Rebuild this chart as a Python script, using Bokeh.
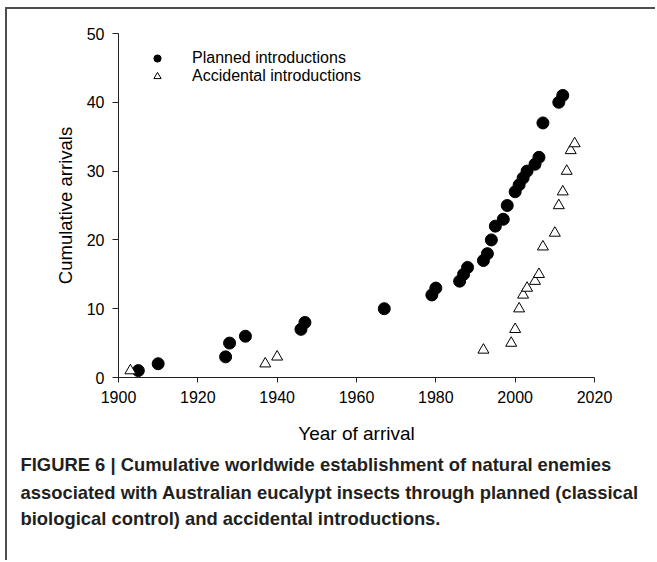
from bokeh.plotting import figure
from bokeh.models import Range1d, Legend, LegendItem, Title, FixedTicker
from bokeh.embed import file_html
from bokeh.resources import INLINE

# Planned introductions (classical biological control)
planned_years = [1905, 1910, 1927, 1928, 1932, 1946, 1947, 1967, 1979, 1980,
                 1986, 1987, 1988, 1992, 1993, 1994, 1995, 1997, 1998, 2000,
                 2001, 2002, 2003, 2005, 2006, 2007, 2011, 2012]
planned_counts = [1, 2, 3, 5, 6, 7, 8, 10, 12, 13,
                  14, 15, 16, 17, 18, 20, 22, 23, 25, 27,
                  28, 29, 30, 31, 32, 37, 40, 41]

# Accidental introductions
accidental_years = [1903, 1937, 1940, 1992, 1999, 2000, 2001, 2002, 2003,
                    2005, 2006, 2007, 2010, 2011, 2012, 2013, 2014, 2015]
accidental_counts = [1, 2, 3, 4, 5, 7, 10, 12, 13,
                     14, 15, 19, 21, 25, 27, 30, 33, 34]

x_ticks = [1900, 1920, 1940, 1960, 1980, 2000, 2020]
y_ticks = [0, 10, 20, 30, 40, 50]

caption_lines = [
    "FIGURE 6 | Cumulative worldwide establishment of natural enemies",
    "associated with Australian eucalypt insects through planned (classical",
    "biological control) and accidental introductions.",
]

FONT = "Liberation Sans"

p = figure(width=650, height=553, output_backend="svg", toolbar_location=None,
           x_range=Range1d(1900, 2020), y_range=Range1d(0, 50),
           min_border_left=111, min_border_right=63,
           min_border_top=24, min_border_bottom=185)
p.styles = {"margin-left": "5px", "margin-top": "7px",
            "border-top": "2px solid #4d4d4d", "border-left": "2px solid #4d4d4d"}
p.outline_line_color = None
p.xgrid.visible = False
p.ygrid.visible = False
p.background_fill_color = "white"
p.border_fill_color = "white"

r_planned = p.scatter(planned_years, planned_counts, marker="circle", size=12,
                      fill_color="black", line_color="black")
r_acc = p.scatter(accidental_years, accidental_counts, marker="triangle", size=11,
                  fill_color="white", line_color="black", line_width=1)

for ax in (p.xaxis[0], p.yaxis[0]):
    ax.axis_line_color = "#222222"
    ax.major_tick_line_color = "#222222"
    ax.minor_tick_line_color = None
    ax.major_tick_in = 0
    ax.major_label_text_font = FONT
    ax.major_label_text_font_size = "16px"
    ax.major_label_text_color = "black"
    ax.axis_label_text_font = FONT
    ax.axis_label_text_font_style = "normal"
    ax.axis_label_text_color = "black"

p.xaxis[0].axis_label_text_font_size = "19px"
p.yaxis[0].axis_label_text_font_size = "18.5px"
p.xaxis[0].ticker = FixedTicker(ticks=x_ticks)
p.yaxis[0].ticker = FixedTicker(ticks=y_ticks)
p.xaxis[0].major_tick_out = 5
p.yaxis[0].major_tick_out = 6
p.xaxis[0].major_label_standoff = 8
p.yaxis[0].major_label_standoff = 8
p.xaxis[0].axis_label = "Year of arrival"
p.yaxis[0].axis_label = "Cumulative arrivals"
p.xaxis[0].axis_label_standoff = 17
p.yaxis[0].axis_label_standoff = 8

legend = Legend(items=[LegendItem(label="Planned introductions", renderers=[r_planned]),
                       LegendItem(label="Accidental introductions", renderers=[r_acc])],
                location=(29, 292), padding=0, margin=0, spacing=0,
                glyph_width=20, glyph_height=18, label_height=18, label_standoff=25,
                border_line_color=None, background_fill_alpha=0,
                label_text_font=FONT, label_text_font_size="16px", label_text_color="black")
p.add_layout(legend)

caption_standoffs = [10, 0, 6]
for line, so in zip(caption_lines, caption_standoffs):
    p.add_layout(Title(text=line, align="left", offset=-98, standoff=so,
                       text_font=FONT, text_font_size="18.4px",
                       text_font_style="bold", text_color="#231f20"), "below")

open("out.html", "w").write(file_html(p, INLINE))
